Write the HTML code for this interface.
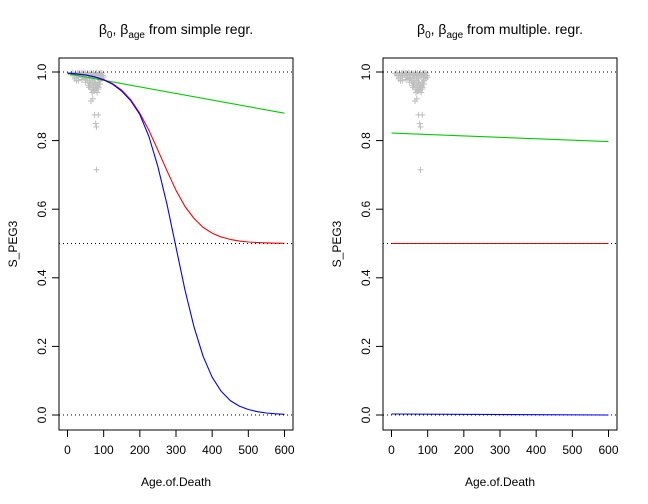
<!DOCTYPE html>
<html><head><meta charset="utf-8">
<style>
html,body{margin:0;padding:0;background:#fff;}
svg{display:block;font-family:"Liberation Sans",sans-serif;}
</style></head>
<body>
<svg id="chart" width="648" height="504" viewBox="0 0 648 504"></svg>
<script>
// ---- data ----
const xTicks = [0,100,200,300,400,500,600];
const yTicks = [0.0,0.2,0.4,0.6,0.8,1.0];
const yTickLabels = ["0.0","0.2","0.4","0.6","0.8","1.0"];
const refLines = [0,0.5,1];
const pointAge = [10,15,20,22,25,28,30,32,35,38,40,42,45,48,50,52,55,58,60,62,64,66,68,70,72,74,76,78,80,82,84,86,88,90,92,95,98,100,
  20,30,40,50,55,60,65,70,72,75,78,80,82,85,88,90,95,60,65,70,75,80,85,90,68,72,78,82,86,
  65,70,75,85,78,80,80,40,50,30,25,15,45,58,62,88,92];
const pointVal = [0.995,0.998,0.99,0.997,0.985,0.996,0.99,0.998,0.992,0.997,0.985,0.996,0.99,0.998,0.993,0.985,0.997,0.99,0.996,0.98,0.99,0.998,0.985,0.993,0.997,0.98,0.99,0.995,0.998,0.985,0.99,0.996,0.993,0.998,0.99,0.997,0.99,0.985,
  0.98,0.975,0.978,0.97,0.975,0.97,0.965,0.975,0.96,0.97,0.965,0.955,0.96,0.97,0.965,0.975,0.98,0.955,0.95,0.955,0.945,0.96,0.95,0.965,0.94,0.945,0.95,0.94,0.955,
  0.915,0.922,0.875,0.875,0.85,0.84,0.715,0.985,0.98,0.985,0.975,0.99,0.982,0.96,0.965,0.985,0.99];
const curveAge = [0,25,50,75,100,125,150,175,200,225,250,275,300,325,350,375,400,425,450,475,500,525,550,575,600];
const leftBlue = [0.9966,0.9946,0.9913,0.9858,0.977,0.964,0.944,0.916,0.876,0.812,0.724,0.614,0.489,0.364,0.256,0.171,0.110,0.069,0.042,0.026,0.016,0.0095,0.0057,0.0034,0.002];
const leftRed = [0.9968,0.9948,0.9915,0.986,0.978,0.966,0.947,0.919,0.880,0.830,0.772,0.712,0.655,0.608,0.573,0.547,0.530,0.519,0.512,0.507,0.5045,0.503,0.5017,0.501,0.5006];
const leftGreen = [0.995,0.88];
const rightBlue = [0.003,0.0];
const rightRed = [0.5,0.5];
const rightGreen = [0.822,0.797];
const lineAge = [0,600];

const NS="http://www.w3.org/2000/svg";
const svg=document.getElementById('chart');
function mk(tag,attrs,parent){const e=document.createElementNS(NS,tag);for(const k in attrs)e.setAttribute(k,attrs[k]);(parent||svg).appendChild(e);return e;}

function panel(px0, title, red, green, blue, redX, greenX, blueX, pname){
  const g=mk('g',{});
  
  
  const L=px0, R=px0+234, T=58, B=430;
  const sx=v=>L+8.5+v*(217/600);
  const sy=v=>415-v*343;
  // points
  for(let i=0;i<pointAge.length;i++){
    const x=sx(pointAge[i]), y=sy(pointVal[i]);
    const p=mk('path',{d:`M${x-3},${y}H${x+3}M${x},${y-3}V${y+3}`,stroke:'#bebebe','stroke-width':1,fill:'none'},g);
    
    
  }
  const drawLine=(xs,ys,col,name)=>{
    const pts=xs.map((a,i)=>sx(a).toFixed(1)+','+sy(ys[i]).toFixed(1)).join(' ');
    const pl=mk('polyline',{points:pts,fill:'none',stroke:col,'stroke-width':1.1,'stroke-linejoin':'round'},g);
    
    
  };
  drawLine(greenX,green,'#00cd00','green-curve');
  drawLine(redX,red,'#ff0000','red-curve');
  drawLine(blueX,blue,'#0000ff','blue-curve');
  // ref lines
  refLines.forEach(v=>{
    const l=mk('line',{x1:L,x2:R,y1:sy(v),y2:sy(v),stroke:'#000','stroke-dasharray':'1,3','stroke-width':1},g);
    
    
  });
  // box
  const box=mk('rect',{x:L,y:T,width:R-L,height:B-T,fill:'none',stroke:'#000','stroke-width':1},g);
  
  
  // x ticks
  xTicks.forEach(v=>{
    mk('line',{x1:sx(v),x2:sx(v),y1:B,y2:B+7,stroke:'#000'},g);
    const t=mk('text',{x:sx(v),y:B+24,'text-anchor':'middle','font-size':12},g);
    t.textContent=v;
    
    
  });
  // y ticks
  yTicks.forEach((v,i)=>{
    mk('line',{x1:L-7,x2:L,y1:sy(v),y2:sy(v),stroke:'#000'},g);
    const t=mk('text',{x:0,y:0,'text-anchor':'middle','font-size':12,transform:`translate(${L-13},${sy(v)}) rotate(-90)`},g);
    t.textContent=yTickLabels[i];
    
    
  });
  const xl=mk('text',{x:(L+R)/2,y:486,'text-anchor':'middle','font-size':12},g);
  xl.textContent='Age.of.Death';
  
  
  const yl=mk('text',{x:0,y:0,'text-anchor':'middle','font-size':12,transform:`translate(${L-42},${(T+B)/2}) rotate(-90)`},g);
  yl.textContent='S_PEG3';
  
  
  const tt=mk('text',{x:(L+R)/2,y:34,'text-anchor':'middle','font-size':14},g);
  tt.innerHTML='β<tspan font-size="10" dy="4">0</tspan><tspan dy="-4">, β</tspan><tspan font-size="10" dy="4">age</tspan><tspan dy="-4"> from '+title+'</tspan>';
  
  
}
panel(59,'simple regr.',leftRed,leftGreen,leftBlue,curveAge,lineAge,curveAge,'left-panel');
panel(383,'multiple. regr.',rightRed,rightGreen,rightBlue,lineAge,lineAge,lineAge,'right-panel');
</script>
</body></html>
